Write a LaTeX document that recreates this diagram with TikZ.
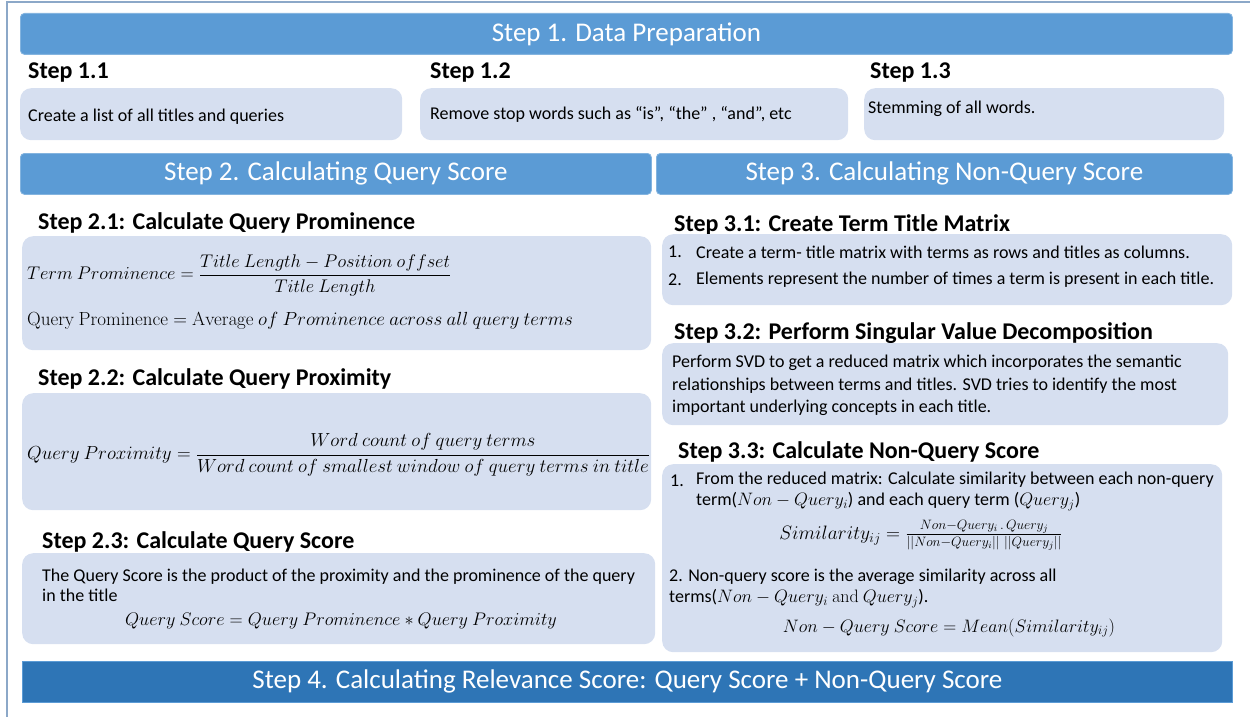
\RequirePackage{fix-cm}
\documentclass[tikz,border=0pt]{standalone}
\usepackage[no-math]{fontspec}
\setmainfont{Carlito}
\usepackage{amsmath}
\definecolor{hdr}{RGB}{91,155,213}
\definecolor{hdrdark}{RGB}{46,117,182}
\definecolor{boxfill}{RGB}{214,223,240}
\definecolor{frameline}{RGB}{140,168,200}
\tikzset{
 hdrbox/.style={fill=hdr, draw=hdr!75!white, line width=0.8pt, rounded corners=4pt, inner sep=0pt, anchor=north west, text=white, font=\fontsize{27}{32}\selectfont},
 lbox/.style={fill=boxfill, rounded corners=11pt, inner sep=0pt, anchor=north west},
 sub/.style={font=\fontsize{24}{28}\selectfont\bfseries, anchor=west, inner sep=0pt},
 body/.style={font=\fontsize{18}{22}\selectfont, anchor=west, inner sep=0pt},
 para/.style={inner sep=0pt, anchor=north west, align=left},
 mth/.style={font=\fontsize{18.3}{23}\selectfont, inner sep=0pt},
}
\begin{document}
\begin{tikzpicture}[x=1pt,y=-1pt]
\useasboundingbox (0,0) rectangle (1250,717);
% frame
\draw[frameline, line width=2pt] (6,2) -- (1250,2);
\draw[frameline, line width=2pt] (7,2) -- (7,717);

% Step 1
\node[hdrbox, minimum width=1212pt, minimum height=41pt] (h1) at (20,13) {Step 1. Data Preparation};
\node[sub] (s11) at (28,73) {Step 1.1};
\node[sub] (s12) at (430,73) {Step 1.2};
\node[sub] (s13) at (870,73) {Step 1.3};
\node[lbox, minimum width=382pt, minimum height=52pt] (b11) at (20,88) {};
\node[lbox, minimum width=428pt, minimum height=52pt] (b12) at (420,88) {};
\node[lbox, minimum width=360pt, minimum height=52pt] (b13) at (864,88) {};
\node[body] (t11) at (28,117) {Create a list of all titles and queries};
\node[body] (t12) at (430,114) {Remove stop words such as “is”, “the” , “and”, etc};
\node[body] (t13) at (868,109) {Stemming of all words.};

% Step 2 / Step 3 headers
\node[hdrbox, minimum width=631pt, minimum height=41pt] (h2) at (20,153) {Step 2. Calculating Query Score};
\node[hdrbox, minimum width=576pt, minimum height=41pt] (h3) at (656,153) {Step 3. Calculating Non-Query Score};

% Step 2.1
\node[sub] (s21) at (38,223) {Step 2.1: Calculate Query Prominence};
\node[lbox, minimum width=629pt, minimum height=114pt] (b21) at (22,236) {};
\node[mth, anchor=west] (f21) at (27,275) {$Term\ Prominence = \dfrac{Title\ Length - Position\ offset}{Title\ Length}$};
\node[mth, anchor=west, font=\fontsize{19}{23}\selectfont] (f22) at (27,321) {$\mathrm{Query\ Prominence} = \mathrm{Average}\ of\ Prominence\ across\ all\ query\ terms$};

% Step 2.2
\node[sub] (s22) at (38,379) {Step 2.2: Calculate Query Proximity};
\node[lbox, minimum width=629pt, minimum height=117pt] (b22) at (22,393) {};
\node[mth, anchor=west, font=\fontsize{18.9}{23}\selectfont] (f23) at (27,455) {$Query\ Proximity = \dfrac{Word\ count\ of\ query\ terms}{Word\ count\ of\ smallest\ window\ of\ query\ terms\ in\ title}$};

% Step 2.3
\node[sub] (s23) at (42,542) {Step 2.3: Calculate Query Score};
\node[lbox, minimum width=633pt, minimum height=91pt] (b23) at (22,553) {};
\node[para, font=\fontsize{18}{19.5}\selectfont] (t23) at (42,569) {The Query Score is the product of the proximity and the prominence of the query\\in the title};
\node[mth, font=\fontsize{18.2}{23}\selectfont] (f24) at (341,621) {$Query\ Score = Query\ Prominence \ast Query\ Proximity$};

% Step 3.1
\node[sub] (s31) at (674,225) {Step 3.1: Create Term Title Matrix};
\node[lbox, minimum width=570pt, minimum height=71pt] (b31) at (662,234) {};
\node[body] (n311) at (668,252) {1.};
\node[body] (t311) at (696,252) {Create a term- title matrix with terms as rows and titles as columns.};
\node[body] (n312) at (668,280) {2.};
\node[body] (t312) at (696,280) {Elements represent the number of times a term is present in each title.};

% Step 3.2
\node[sub] (s32) at (674,333) {Step 3.2: Perform Singular Value Decomposition};
\node[lbox, minimum width=566pt, minimum height=82pt] (b32) at (662,343) {};
\node[para, font=\fontsize{18}{22.5}\selectfont] (t32) at (672,355) {Perform SVD to get a reduced matrix which incorporates the semantic\\relationships between terms and titles. SVD tries to identify the most\\important underlying concepts in each title.};

% Step 3.3
\node[sub] (s33) at (678,452) {Step 3.3: Calculate Non-Query Score};
\node[lbox, minimum width=560pt, minimum height=188pt] (b33) at (662,464) {};
\node[body] (n331) at (670,481) {1.};
\node[para, font=\fontsize{18}{21}\selectfont] (t331) at (696,472) {From the reduced matrix: Calculate similarity between each non-query\\term($Non - Query_i$) and each query term ($Query_j$)};
\node[mth, font=\fontsize{19.4}{25}\selectfont] (f31) at (921,535) {$Similarity_{ij} = \frac{Non{-}Query_i\,.\,Query_j}{||Non{-}Query_i||\ ||Query_j||}$};
\node[para, font=\fontsize{18}{21}\selectfont] (t333) at (669,569) {2. Non-query score is the average similarity across all\\terms($Non - Query_i\ \mathrm{and}\ Query_j$).};
\node[mth, font=\fontsize{18}{23}\selectfont] (f32) at (949,628) {$Non - Query\ Score = Mean(Similarity_{ij})$};

% Step 4
\node[fill=hdrdark, draw=hdr, line width=0.8pt, inner sep=0pt, anchor=north west, text=white, font=\fontsize{27}{32}\selectfont, minimum width=1210pt, minimum height=41pt] (h4) at (22,661) {Step 4. Calculating Relevance Score: Query Score + Non-Query Score};
\end{tikzpicture}
\end{document}
